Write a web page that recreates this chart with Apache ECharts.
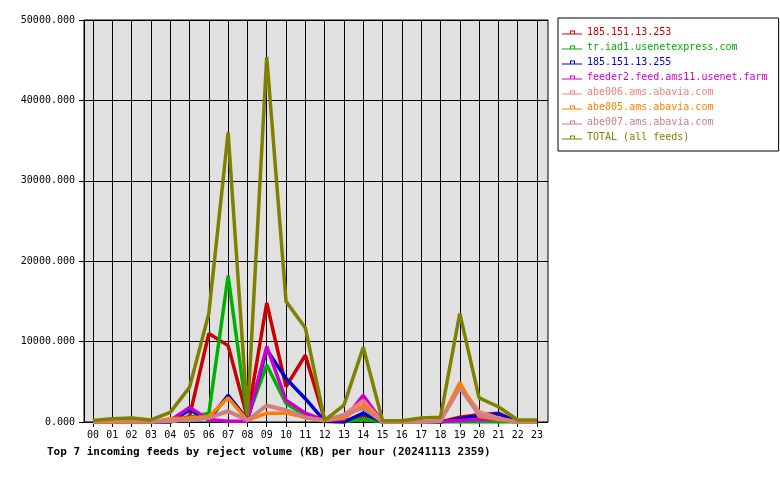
<!DOCTYPE html>
<html>
<head>
<meta charset="utf-8">
<script src="https://cdn.jsdelivr.net/npm/echarts@6/dist/echarts.min.js"></script>
<style>
  html, body { margin: 0; padding: 0; background: #fff; }
  #chart { width: 780px; height: 480px; }
</style>
</head>
<body>
<div id="chart"></div>
<script>
// hours of the day
var hours = ['00', '01', '02', '03', '04', '05', '06', '07', '08', '09', '10', '11',
  '12', '13', '14', '15', '16', '17', '18', '19', '20', '21', '22', '23']

// reject volume (KB) per hour, one array per feed
var feed253 = [0, 0, 0, 0, 0, 700, 11000, 9500, 500, 14800, 4400, 8300, 300, 100, 700, 0, 0, 0, 0, 600, 900, 1100, 0, 0]
var feedIad1 = [0, 0, 0, 0, 0, 600, 1100, 18200, 500, 7100, 2300, 800, 100, 0, 400, 0, 0, 0, 0, 0, 0, 0, 0, 0]
var feed255 = [0, 0, 0, 0, 0, 1500, 300, 3300, 300, 9000, 5400, 2900, 100, 0, 1100, 0, 0, 0, 0, 400, 800, 1000, 0, 0]
var feedAms11 = [0, 0, 0, 0, 200, 1800, 300, 100, 100, 9400, 2700, 1100, 200, 300, 3300, 0, 0, 0, 100, 200, 300, 300, 0, 0]
var feedAbe006 = [0, 0, 0, 0, 100, 300, 500, 1300, 200, 2000, 1400, 500, 200, 900, 2700, 0, 0, 0, 100, 4500, 1300, 500, 0, 0]
var feedAbe005 = [0, 0, 0, 0, 400, 500, 700, 3000, 200, 1100, 1100, 600, 200, 500, 2100, 0, 0, 0, 100, 4900, 700, 300, 0, 0]
var feedAbe007 = [100, 200, 200, 100, 200, 200, 500, 1400, 200, 2100, 1500, 600, 200, 900, 1700, 0, 0, 0, 100, 4200, 900, 400, 0, 0]
var feedTotal = [200, 400, 500, 250, 1200, 4300, 13500, 36000, 800, 45400, 15000, 11700, 200, 2100, 9300, 150, 150, 500, 600, 13500, 3000, 1900, 250, 250]

var feedNames = ['185.151.13.253', 'tr.iad1.usenetexpress.com', '185.151.13.255', 'feeder2.feed.ams11.usenet.farm',
  'abe006.ams.abavia.com', 'abe005.ams.abavia.com', 'abe007.ams.abavia.com', 'TOTAL (all feeds)']
var feedData = [feed253, feedIad1, feed255, feedAms11, feedAbe006, feedAbe005, feedAbe007, feedTotal]
var feedColors = ['#cc0000', '#00b000', '#0000cc', '#cc00cc', '#f08080', '#ff8000', '#cc8080', '#808000']

var mono = 'DejaVu Sans Mono'

var series = feedNames.map(function (name, i) {
  return {
    name: name,
    type: 'line',
    xAxisIndex: 1,
    yAxisIndex: 1,
    data: feedData[i],
    symbol: 'none',
    color: feedColors[i],
    lineStyle: { width: 3.5, color: feedColors[i] }
  }
})

var option = {
  animation: false,
  backgroundColor: '#fff',
  title: {
    text: 'Top 7 incoming feeds by reject volume (KB) per hour (20241113 2359)',
    left: 47,
    top: 447,
    padding: 0,
    textStyle: { fontFamily: mono, fontSize: 11, fontWeight: 'bold', color: '#000' }
  },
  legend: {
    orient: 'vertical',
    left: 558,
    top: 18,
    padding: [8, 11, 7, 4],
    backgroundColor: '#fff',
    borderColor: '#000',
    borderWidth: 1,
    borderRadius: 0,
    itemWidth: 20,
    itemHeight: 6,
    itemGap: 2,
    icon: 'path://M0,4H20V5H0Z M8,1H13V2H8Z M8,1H9V4H8Z M12,1H13V4H12Z',
    textStyle: { fontFamily: mono, fontSize: 10, lineHeight: 13 },
    data: feedNames.map(function (name, i) {
      return { name: name, textStyle: { color: feedColors[i] } }
    })
  },
  grid: [
    { left: 84, top: 20, width: 464, height: 402, show: true, backgroundColor: '#e0e0e0', borderColor: '#000', borderWidth: 1 },
    { left: 93, top: 20, width: 444, height: 402, show: false }
  ],
  xAxis: [
    { gridIndex: 0, type: 'value', min: 0, max: 1, show: false },
    {
      gridIndex: 1,
      type: 'category',
      data: hours,
      boundaryGap: false,
      axisLine: { show: true, lineStyle: { color: '#000' } },
      axisTick: { show: true, length: 5, lineStyle: { color: '#000' } },
      axisLabel: { margin: 8, fontFamily: mono, fontSize: 10, color: '#000', interval: 0 },
      splitLine: { show: true, lineStyle: { color: '#000', width: 1 } }
    }
  ],
  yAxis: [
    {
      gridIndex: 0,
      type: 'value',
      min: 0,
      max: 50000,
      interval: 10000,
      axisLine: { show: true, lineStyle: { color: '#000' } },
      axisTick: { show: true, length: 5, lineStyle: { color: '#000' } },
      axisLabel: {
        margin: 9,
        fontFamily: mono,
        fontSize: 10,
        color: '#000',
        formatter: function (v) { return v.toFixed(3) }
      },
      splitLine: { show: true, lineStyle: { color: '#000', width: 1 } }
    },
    { gridIndex: 1, type: 'value', min: 0, max: 50000, show: false, splitLine: { show: false } }
  ],
  series: series
}

var chart = echarts.init(document.getElementById('chart'))
chart.setOption(option)
</script>
</body>
</html>
